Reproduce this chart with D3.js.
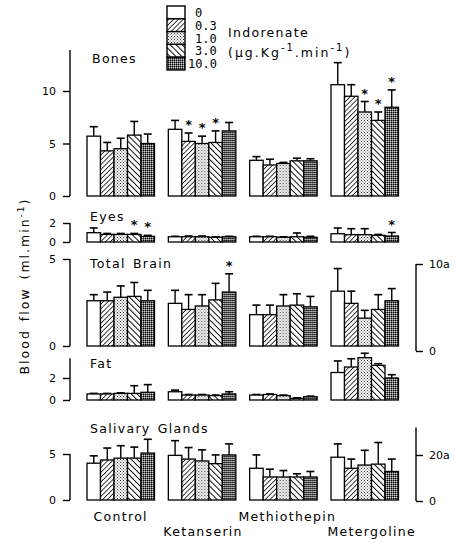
<!DOCTYPE html>
<html>
<head>
<meta charset="utf-8">
<script src="https://cdn.jsdelivr.net/npm/d3@7/dist/d3.min.js"></script>
<style>
  html, body { margin: 0; padding: 0; background: #fff; }
  svg { display: block; }
  text { font-family: "DejaVu Sans", sans-serif; fill: #000; }
  .lbl { font-size: 12.5px; letter-spacing: 1.3px; word-spacing: 2px; }
  .tick text { font-size: 11px; }
  .mono { font-family: "DejaVu Sans Mono", monospace; font-size: 12px; }
</style>
</head>
<body>
<script>
// Regional blood flow (ml.min-1) under indorenate infusion, by pretreatment
const categories = ["Control", "Ketanserin", "Methiothepin", "Metergoline"];
const doses = ["0", "0.3", "1.0", "3.0", "10.0"];

// mean and s.e.m., one row per pretreatment, one column per dose
const bonesMean = [[5.7, 4.3, 4.5, 5.8, 5.0], [6.35, 5.2, 5.0, 5.1, 6.2], [3.4, 2.95, 3.1, 3.35, 3.35], [10.6, 9.5, 8.0, 7.2, 8.45]];
const bonesSem  = [[0.9, 0.8, 1.0, 1.3, 0.9], [0.85, 0.8, 0.7, 1.1, 0.8], [0.35, 0.55, 0.1, 0.25, 0.2], [2.1, 1.1, 1.0, 0.8, 1.65]];
const eyesMean  = [[0.98, 0.8, 0.8, 0.8, 0.6], [0.55, 0.55, 0.55, 0.5, 0.55], [0.55, 0.55, 0.5, 0.55, 0.5], [0.87, 0.77, 0.77, 0.7, 0.63]];
const eyesSem   = [[0.5, 0.1, 0.1, 0.1, 0.1], [0.05, 0.08, 0.08, 0.05, 0.05], [0.05, 0.05, 0.05, 0.4, 0.1], [0.6, 0.63, 0.63, 0.1, 0.37]];
const brainMean = [[2.6, 2.6, 2.8, 2.85, 2.6], [2.45, 2.1, 2.3, 2.65, 3.1], [1.8, 1.8, 2.3, 2.35, 2.25], [3.15, 2.45, 1.6, 2.1, 2.6]];
const brainSem  = [[0.35, 0.5, 0.65, 0.8, 0.6], [0.75, 0.85, 0.65, 0.95, 1.05], [0.55, 0.55, 0.65, 0.65, 0.6], [1.3, 0.7, 0.45, 0.85, 0.7]];
const fatMean   = [[0.55, 0.55, 0.6, 0.6, 0.7], [0.75, 0.45, 0.45, 0.4, 0.55], [0.45, 0.5, 0.4, 0.15, 0.3], [2.5, 3.0, 3.85, 3.15, 2.0]];
const fatSem    = [[0.05, 0.05, 0.05, 0.7, 0.7], [0.15, 0.05, 0.05, 0.05, 0.2], [0.05, 0.05, 0.05, 0.05, 0.05], [1.05, 0.75, 0.4, 0.15, 0.3]];
const salivMean = [[4.0, 4.35, 4.55, 4.55, 5.1], [4.85, 4.45, 4.25, 3.95, 4.9], [3.45, 2.5, 2.5, 2.5, 2.5], [4.65, 3.45, 3.8, 3.9, 3.1]];
const salivSem  = [[0.8, 1.3, 1.35, 1.2, 1.5], [1.6, 1.25, 1.2, 0.95, 1.2], [1.45, 0.85, 0.7, 0.35, 0.6], [1.45, 1.0, 1.6, 2.35, 1.35]];

// significant differences: [pretreatment index, dose index]
const bonesStars = [[1, 1], [1, 2], [1, 3], [3, 2], [3, 3], [3, 4]];
const eyesStars  = [[0, 3], [0, 4], [3, 4]];
const brainStars = [[1, 4]];

// tick labels
const bonesTicks = [0, 5, 10];
const eyesTicks = [0, 2];
const brainTicks = [0, 5];
const fatTicks = [0, 2];
const salivTicks = [0, 5];
const brainRightTicks = [0, 10];
const salivRightTicks = [0, 20];

const W = 455, H = 542;
const svg = d3.select("body").append("svg").attr("width", W).attr("height", H);

// fill patterns for the doses
const defs = svg.append("defs");
function hatch(id, angle, size, sw) {
  const p = defs.append("pattern").attr("id", id).attr("patternUnits", "userSpaceOnUse")
    .attr("width", size).attr("height", size).attr("patternTransform", `rotate(${angle})`);
  p.append("rect").attr("width", size).attr("height", size).attr("fill", "#fff");
  p.append("line").attr("x1", 0).attr("y1", 0).attr("x2", 0).attr("y2", size)
    .attr("stroke", "#000").attr("stroke-width", sw);
}
hatch("p03", 45, 3.4, 1.5);
hatch("p30", -45, 4.2, 1.9);
{
  const p = defs.append("pattern").attr("id", "p10").attr("patternUnits", "userSpaceOnUse")
    .attr("width", 3).attr("height", 3);
  p.append("rect").attr("width", 3).attr("height", 3).attr("fill", "#fff");
  [[0, 0], [1.5, 1.5]].forEach(([x, y]) => p.append("rect").attr("x", x).attr("y", y)
    .attr("width", 1).attr("height", 1).attr("fill", "#333"));
}
{
  const p = defs.append("pattern").attr("id", "p100").attr("patternUnits", "userSpaceOnUse")
    .attr("width", 2).attr("height", 2);
  p.append("rect").attr("width", 2).attr("height", 2).attr("fill", "#6a6a6a");
  p.append("rect").attr("x", 0).attr("y", 0).attr("width", 1).attr("height", 1).attr("fill", "#000");
  p.append("rect").attr("x", 1).attr("y", 1).attr("width", 1).attr("height", 1).attr("fill", "#d0d0d0");
}
const fills = ["#fff", "url(#p03)", "url(#p10)", "url(#p30)", "url(#p100)"];
const fillOf = d3.scaleOrdinal().domain(doses).range(fills);

// horizontal layout shared by all panels
const xGroup = d3.scaleBand().domain(categories).range([87, 398.5]).paddingInner(0.17).paddingOuter(0);
const xDose = d3.scaleBand().domain(doses).range([0, xGroup.bandwidth()]).padding(0);

const axisX = 70, rightX = 416;

const panels = [
  { title: "Bones", mean: bonesMean, sem: bonesSem, stars: bonesStars, ticks: bonesTicks,
    dom: [0, 10], rng: [196, 91], axisTop: 13.9, tx: 92, ty: 63 },
  { title: "Eyes", mean: eyesMean, sem: eyesSem, stars: eyesStars, ticks: eyesTicks,
    dom: [0, 2], rng: [242, 223], axisTop: 2, tx: 90, ty: 221 },
  { title: "Total Brain", mean: brainMean, sem: brainSem, stars: brainStars, ticks: brainTicks,
    dom: [0, 5], rng: [346, 259], axisTop: 5, tx: 90, ty: 268,
    right: { ticks: brainRightTicks, labels: ["0", "10a"], dom: [0, 10], rng: [351, 264], top: 10 } },
  { title: "Fat", mean: fatMean, sem: fatSem, stars: [], ticks: fatTicks,
    dom: [0, 2], rng: [400, 378], axisTop: 3.8, tx: 90, ty: 368 },
  { title: "Salivary Glands", mean: salivMean, sem: salivSem, stars: [], ticks: salivTicks,
    dom: [0, 5], rng: [500, 454], axisTop: 5, tx: 90, ty: 433,
    right: { ticks: salivRightTicks, labels: ["0", "20a"], dom: [0, 20], rng: [501, 455], top: 32 } }
];

panels.forEach(pn => {
  const y = d3.scaleLinear().domain(pn.dom).range(pn.rng);
  const g = svg.append("g");

  // left axis: vertical line with ticks pointing outwards
  const ax = g.append("g").attr("transform", `translate(${axisX},0)`)
    .call(d3.axisLeft(y).tickValues(pn.ticks).tickSize(7).tickSizeOuter(0).tickPadding(7).tickFormat(d3.format("d")));
  ax.select(".domain").remove();
  ax.selectAll(".tick line").attr("stroke-width", 1.4);
  ax.append("line").attr("x1", 0).attr("x2", 0).attr("y1", y(0)).attr("y2", y(pn.axisTop))
    .attr("stroke", "#000").attr("stroke-width", 1.4);

  if (pn.right) {
    const r = pn.right;
    const yr = d3.scaleLinear().domain(r.dom).range(r.rng);
    const ra = g.append("g").attr("transform", `translate(${rightX},0)`)
      .call(d3.axisRight(yr).tickValues(r.ticks).tickSize(7).tickSizeOuter(0).tickPadding(6)
        .tickFormat((d, i) => r.labels[i]));
    ra.select(".domain").remove();
    ra.selectAll(".tick line").attr("stroke-width", 1.4);
    ra.append("line").attr("x1", 0).attr("x2", 0).attr("y1", yr(0)).attr("y2", yr(r.top))
      .attr("stroke", "#000").attr("stroke-width", 1.4);
  }

  g.append("text").attr("class", "lbl").attr("x", pn.tx).attr("y", pn.ty).text(pn.title);

  categories.forEach((cat, ci) => {
    const gg = g.append("g").attr("transform", `translate(${xGroup(cat)},0)`);
    const rows = doses.map((d, di) => ({ dose: d, m: pn.mean[ci][di], s: pn.sem[ci][di] }));
    // error bars behind the bars
    gg.selectAll("line.err").data(rows).join("line").attr("class", "err")
      .attr("x1", d => xDose(d.dose) + xDose.bandwidth() / 2)
      .attr("x2", d => xDose(d.dose) + xDose.bandwidth() / 2)
      .attr("y1", d => y(d.m)).attr("y2", d => y(d.m + d.s))
      .attr("stroke", "#000").attr("stroke-width", 1.4);
    gg.selectAll("line.cap").data(rows).join("line").attr("class", "cap")
      .attr("x1", d => xDose(d.dose) + xDose.bandwidth() / 2 - 4)
      .attr("x2", d => xDose(d.dose) + xDose.bandwidth() / 2 + 4)
      .attr("y1", d => y(d.m + d.s)).attr("y2", d => y(d.m + d.s))
      .attr("stroke", "#000").attr("stroke-width", 1.6);
    gg.selectAll("rect").data(rows).join("rect")
      .attr("x", d => xDose(d.dose)).attr("width", xDose.bandwidth())
      .attr("y", d => y(d.m)).attr("height", d => y(0) - y(d.m))
      .attr("fill", d => fillOf(d.dose)).attr("stroke", "#000").attr("stroke-width", 1.3);
  });

  // significance markers
  g.selectAll("text.star").data(pn.stars).join("text").attr("class", "star")
    .attr("x", d => xGroup(categories[d[0]]) + xDose(doses[d[1]]) + xDose.bandwidth() / 2)
    .attr("y", d => y(pn.mean[d[0]][d[1]] + pn.sem[d[0]][d[1]]) - 4)
    .attr("text-anchor", "middle").style("font-size", "13px").style("font-weight", "bold")
    .text("*");
});

// pretreatment names, staggered on two lines
const catOffset = [0, 1, 4, 7];
svg.selectAll("text.cat").data(categories).join("text").attr("class", "cat lbl")
  .attr("x", (d, i) => xGroup(d) + xGroup.bandwidth() / 2 + catOffset[i])
  .attr("y", (d, i) => i % 2 === 0 ? 521 : 536)
  .attr("text-anchor", "middle").text(d => d);

// y axis title
const yt = svg.append("text").attr("class", "lbl")
  .attr("transform", "translate(29,286) rotate(-90)").attr("text-anchor", "middle")
  .style("letter-spacing", "2px");
yt.append("tspan").text("Blood flow (ml.min");
yt.append("tspan").attr("dy", -5).style("font-size", "9px").text("-1");
yt.append("tspan").attr("dy", 5).text(")");

// legend
const lx = 167, ly = 6, lw = 18, lh = 12.8;
const lg = svg.append("g");
lg.selectAll("rect").data(doses).join("rect")
  .attr("x", lx).attr("y", (d, i) => ly + i * lh).attr("width", lw).attr("height", lh)
  .attr("fill", d => fillOf(d)).attr("stroke", "#000").attr("stroke-width", 1.4);
lg.selectAll("text").data(doses).join("text").attr("class", "mono")
  .attr("x", d => lx + 28 - (d.length > 3 ? 7 : 0))
  .attr("y", (d, i) => ly + i * lh + 11).text(d => d);
svg.append("text").attr("class", "lbl").attr("x", 228).attr("y", 37).text("Indorenate");
const unit = svg.append("text").attr("class", "lbl").attr("x", 228).attr("y", 57)
  .style("letter-spacing", "2px");
unit.append("tspan").text("(µg.Kg");
unit.append("tspan").attr("dy", -6).style("font-size", "10px").text("-1");
unit.append("tspan").attr("dy", 6).text(".min");
unit.append("tspan").attr("dy", -6).style("font-size", "10px").text("-1");
unit.append("tspan").attr("dy", 6).text(")");
</script>
</body>
</html>
